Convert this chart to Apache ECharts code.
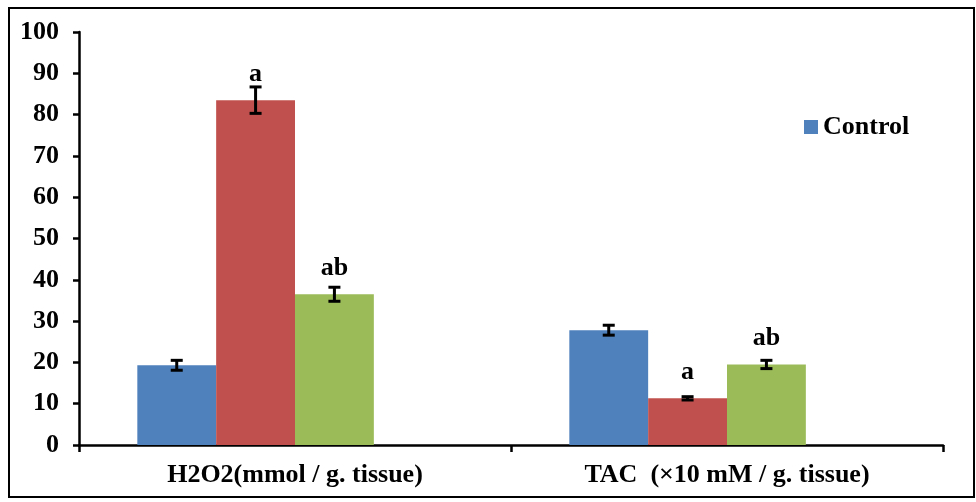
<!DOCTYPE html>
<html>
<head>
<meta charset="utf-8">
<script src="https://cdn.jsdelivr.net/npm/echarts@6/dist/echarts.min.js"></script>
<style>
  html, body { margin: 0; padding: 0; background: #fff; }
  #chart { width: 976px; height: 502px; }
</style>
</head>
<body>
<div id="chart"></div>
<script>
// categories and values
const categories = ['H2O2(mmol / g. tissue)', 'TAC  (\u00d710 mM / g. tissue)'];
const seriesNames = ['Control', 'Group 2', 'Group 3'];
const controlVals = [19.3, 27.8];
const group2Vals = [83.5, 11.3];
const group3Vals = [36.5, 19.5];
const controlErr = [1.2, 1.2];
const group2Err = [3.2, 0.4];
const group3Err = [1.7, 1.0];
const controlSig = ['', ''];
const group2Sig = ['a', 'a'];
const group3Sig = ['ab', 'ab'];
const yTicks = { min: 0, max: 100, interval: 10 };

const colors = ['#4F81BD', '#C0504D', '#9BBB59'];
const font = '"Liberation Serif", "Times New Roman", serif';

const values = [controlVals, group2Vals, group3Vals];
const errs = [controlErr, group2Err, group3Err];
const sigs = [controlSig, group2Sig, group3Sig];

// the original leaves room for a fourth (empty) bar in each group,
// so each bar is ~18% of a band and the group sits left of centre
const gapPct = 27;
const slots = 4;
const barFrac = (1 - gapPct / 100) / slots;

function errorSeries(k) {
  const offset = (k - (slots - 1) / 2) * barFrac;
  return {
    type: 'custom',
    name: seriesNames[k] + ' err',
    z: 5,
    data: values[k].map((v, i) => [i, v, errs[k][i]]),
    renderItem: function (params, api) {
      const x = api.value(0), v = api.value(1), e = api.value(2);
      const band = api.size([1, 0])[0];
      const base = api.coord([x, v]);
      const cx = base[0] + offset * band;
      const top = api.coord([x, v + e])[1];
      const bot = api.coord([x, v - e])[1];
      const hw = 6;
      const st = { stroke: '#000', lineWidth: 3 };
      const kids = [
        { type: 'line', shape: { x1: cx, y1: top, x2: cx, y2: bot }, style: st },
        { type: 'line', shape: { x1: cx - hw, y1: top, x2: cx + hw, y2: top }, style: st },
        { type: 'line', shape: { x1: cx - hw, y1: bot, x2: cx + hw, y2: bot }, style: st }
      ];
      const lab = sigs[k][params.dataIndex];
      if (lab) {
        // letters sit a fixed distance above the bar top
        kids.push({
          type: 'text',
          style: {
            text: lab, x: cx, y: base[1] - 13,
            align: 'center', verticalAlign: 'bottom',
            font: 'bold 26px ' + font, fill: '#000'
          }
        });
      }
      return { type: 'group', children: kids };
    }
  };
}

const barBase = { type: 'bar', barGap: '0%', barCategoryGap: gapPct + '%' };

const chart = echarts.init(document.getElementById('chart'));
chart.setOption({
  animation: false,
  color: colors,
  graphic: [{
    type: 'rect',
    shape: { x: 9, y: 8, width: 965, height: 489 },
    style: { fill: 'none', stroke: '#000', lineWidth: 2 }
  }],
  legend: {
    data: ['Control'],
    left: 799, top: 109,
    itemWidth: 14, itemHeight: 14, icon: 'rect',
    textStyle: { fontFamily: font, fontWeight: 'bold', fontSize: 26, color: '#000' }
  },
  grid: { left: 79, right: 33, top: 32, bottom: 57 },
  xAxis: {
    type: 'category',
    data: categories,
    axisLine: { lineStyle: { color: '#000', width: 2.5 } },
    axisTick: { show: true, length: 7, lineStyle: { color: '#000', width: 2.5 } },
    axisLabel: { fontFamily: font, fontWeight: 'bold', fontSize: 26, color: '#000', margin: 17 }
  },
  yAxis: {
    type: 'value',
    min: yTicks.min, max: yTicks.max, interval: yTicks.interval,
    splitLine: { show: false },
    axisLine: { show: true, lineStyle: { color: '#000', width: 2.5 } },
    axisTick: { show: true, length: 6, lineStyle: { color: '#000', width: 2.5 } },
    axisLabel: { fontFamily: font, fontWeight: 'bold', fontSize: 26, color: '#000', margin: 20 }
  },
  series: [
    Object.assign({ name: seriesNames[0], data: controlVals }, barBase),
    Object.assign({ name: seriesNames[1], data: group2Vals }, barBase),
    Object.assign({ name: seriesNames[2], data: group3Vals }, barBase),
    Object.assign({ name: '', data: [null, null] }, barBase),
    errorSeries(0), errorSeries(1), errorSeries(2)
  ]
});
</script>
</body>
</html>
